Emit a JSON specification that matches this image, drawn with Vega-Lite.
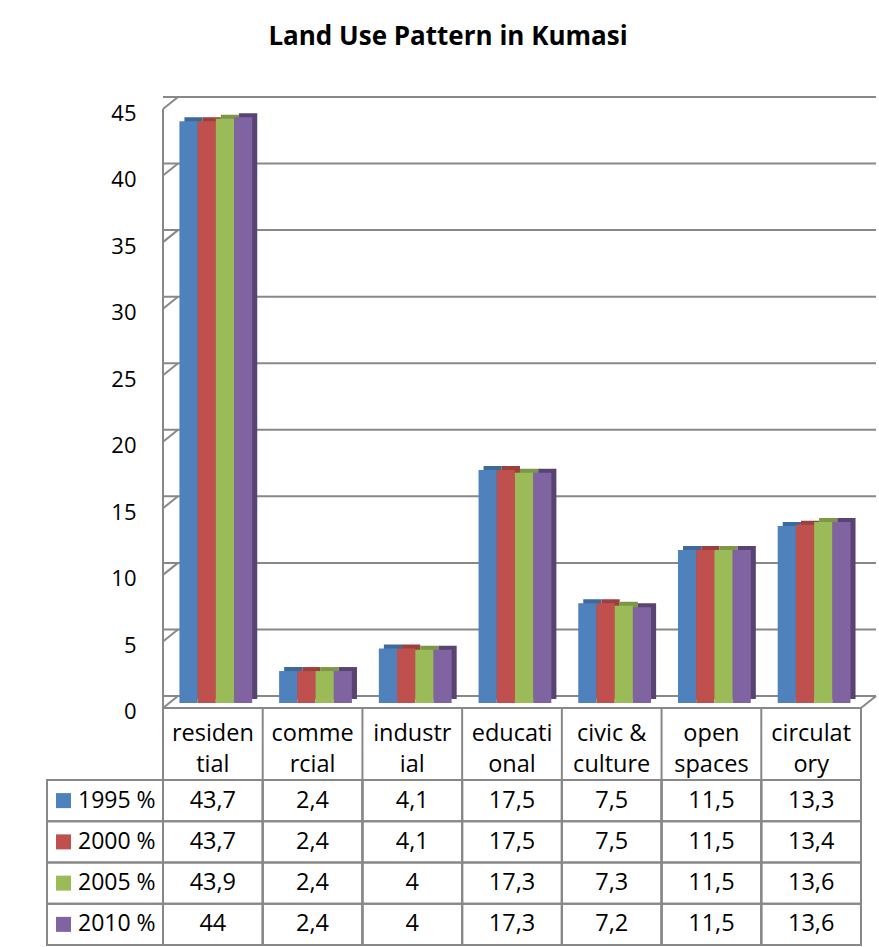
{
  "$schema": "https://vega.github.io/schema/vega-lite/v6.json",
  "autosize": {"type": "none"},
  "width": 698,
  "height": 848,
  "padding": {"left": 163, "top": 97, "right": 18, "bottom": 2},
  "background": "white",
  "config": {"view": {"stroke": null}, "font": "Open Sans", "scale": {"bandPaddingInner": 0, "bandPaddingOuter": 0}},
  "title": {"text": "Land Use Pattern in Kumasi", "font": "Open Sans", "fontSize": 26, "fontWeight": "bold", "color": "black", "anchor": "middle", "frame": "group", "dx": -64, "offset": 25, "baseline": "alphabetic"},
  "datasets": {
    "landuse": [
      {"category": "residential", "series": "1995 %", "value": 43.7, "txt": "43,7"},
      {"category": "commercial", "series": "1995 %", "value": 2.4, "txt": "2,4"},
      {"category": "industrial", "series": "1995 %", "value": 4.1, "txt": "4,1"},
      {"category": "educational", "series": "1995 %", "value": 17.5, "txt": "17,5"},
      {"category": "civic & culture", "series": "1995 %", "value": 7.5, "txt": "7,5"},
      {"category": "open spaces", "series": "1995 %", "value": 11.5, "txt": "11,5"},
      {"category": "circulatory", "series": "1995 %", "value": 13.3, "txt": "13,3"},
      {"category": "residential", "series": "2000 %", "value": 43.7, "txt": "43,7"},
      {"category": "commercial", "series": "2000 %", "value": 2.4, "txt": "2,4"},
      {"category": "industrial", "series": "2000 %", "value": 4.1, "txt": "4,1"},
      {"category": "educational", "series": "2000 %", "value": 17.5, "txt": "17,5"},
      {"category": "civic & culture", "series": "2000 %", "value": 7.5, "txt": "7,5"},
      {"category": "open spaces", "series": "2000 %", "value": 11.5, "txt": "11,5"},
      {"category": "circulatory", "series": "2000 %", "value": 13.4, "txt": "13,4"},
      {"category": "residential", "series": "2005 %", "value": 43.9, "txt": "43,9"},
      {"category": "commercial", "series": "2005 %", "value": 2.4, "txt": "2,4"},
      {"category": "industrial", "series": "2005 %", "value": 4, "txt": "4"},
      {"category": "educational", "series": "2005 %", "value": 17.3, "txt": "17,3"},
      {"category": "civic & culture", "series": "2005 %", "value": 7.3, "txt": "7,3"},
      {"category": "open spaces", "series": "2005 %", "value": 11.5, "txt": "11,5"},
      {"category": "circulatory", "series": "2005 %", "value": 13.6, "txt": "13,6"},
      {"category": "residential", "series": "2010 %", "value": 44, "txt": "44"},
      {"category": "commercial", "series": "2010 %", "value": 2.4, "txt": "2,4"},
      {"category": "industrial", "series": "2010 %", "value": 4, "txt": "4"},
      {"category": "educational", "series": "2010 %", "value": 17.3, "txt": "17,3"},
      {"category": "civic & culture", "series": "2010 %", "value": 7.2, "txt": "7,2"},
      {"category": "open spaces", "series": "2010 %", "value": 11.5, "txt": "11,5"},
      {"category": "circulatory", "series": "2010 %", "value": 13.6, "txt": "13,6"}
    ],
    "cats": [
      {"category": "residential", "header": "residen\ntial"},
      {"category": "commercial", "header": "comme\nrcial"},
      {"category": "industrial", "header": "industr\nial"},
      {"category": "educational", "header": "educati\nonal"},
      {"category": "civic & culture", "header": "civic &\nculture"},
      {"category": "open spaces", "header": "open\nspaces"},
      {"category": "circulatory", "header": "circulat\nory"}
    ],
    "grid": [{"v": 0}, {"v": 5}, {"v": 10}, {"v": 15}, {"v": 20}, {"v": 25}, {"v": 30}, {"v": 35}, {"v": 40}, {"v": 45}],
    "series": [{"series": "1995 %"}, {"series": "2000 %"}, {"series": "2005 %"}, {"series": "2010 %"}],
    "one": [{}]
  },
  "layer": [
    {
      "layer": [
        {
          "data": {"name": "grid"},
          "mark": {"type": "rule", "color": "#888888", "strokeWidth": 2, "xOffset": 15, "x2Offset": 15, "yOffset": -12},
          "encoding": {
            "y": {"field": "v", "type": "quantitative", "scale": {"domain": [-17.805, 45.902], "nice": false, "zero": false},
              "axis": {"values": [0, 5, 10, 15, 20, 25, 30, 35, 40, 45], "title": null, "domain": false, "ticks": false, "grid": false, "labelFont": "Open Sans", "labelFontSize": 22, "labelColor": "black", "labelPadding": 27, "labelOffset": 4}}
          }
        },
        {
          "data": {"name": "grid"},
          "mark": {"type": "rule", "color": "#888888", "strokeWidth": 2, "x2Offset": 15, "y2Offset": -12},
          "encoding": {
            "x": {"datum": "residential", "type": "nominal", "bandPosition": 0, "axis": null,
              "scale": {"domain": ["residential", "commercial", "industrial", "educational", "civic & culture", "open spaces", "circulatory"], "paddingInner": 0, "paddingOuter": 0}},
            "x2": {"datum": "residential", "bandPosition": 0},
            "y": {"field": "v", "type": "quantitative", "scale": {"domain": [-17.805, 45.902], "nice": false, "zero": false}},
            "y2": {"field": "v"}
          }
        },
        {
          "data": {"name": "one"},
          "mark": {"type": "rule", "color": "#888888", "strokeWidth": 2},
          "encoding": {"y": {"datum": 0, "type": "quantitative", "scale": {"domain": [-17.805, 45.902], "nice": false, "zero": false}}}
        },
        {
          "data": {"name": "one"},
          "mark": {"type": "rule", "color": "#888888", "strokeWidth": 2, "x2Offset": 15, "y2Offset": -12},
          "encoding": {
            "x": {"datum": "circulatory", "type": "nominal", "bandPosition": 1},
            "x2": {"datum": "circulatory", "bandPosition": 1},
            "y": {"datum": 0, "type": "quantitative", "scale": {"domain": [-17.805, 45.902], "nice": false, "zero": false}},
            "y2": {"datum": 0}
          }
        },
        {
          "data": {"name": "one"},
          "mark": {"type": "rule", "color": "#888888", "strokeWidth": 2},
          "encoding": {
            "x": {"datum": "residential", "type": "nominal", "bandPosition": 0},
            "y": {"datum": 45, "type": "quantitative", "scale": {"domain": [-17.805, 45.902], "nice": false, "zero": false}},
            "y2": {"value": "height"}
          }
        },
        {
          "data": {"name": "cats"},
          "mark": {"type": "rule", "color": "#888888", "strokeWidth": 2},
          "encoding": {
            "x": {"field": "category", "type": "nominal", "bandPosition": 0},
            "y": {"datum": 0, "type": "quantitative", "scale": {"domain": [-17.805, 45.902], "nice": false, "zero": false}},
            "y2": {"value": "height"}
          }
        },
        {
          "data": {"name": "one"},
          "mark": {"type": "rule", "color": "#888888", "strokeWidth": 2},
          "encoding": {
            "x": {"datum": "circulatory", "type": "nominal", "bandPosition": 1},
            "y": {"datum": 0, "type": "quantitative", "scale": {"domain": [-17.805, 45.902], "nice": false, "zero": false}},
            "y2": {"value": "height"}
          }
        },
        {
          "layer": [
            {
              "data": {"name": "landuse"},
              "mark": {"type": "bar", "yOffset": -9, "y2Offset": -9},
              "encoding": {
                "x": {"field": "category", "type": "nominal"},
                "xOffset": {"field": "series", "type": "nominal", "scale": {"domain": ["1995 %", "2000 %", "2005 %", "2010 %"], "paddingInner": 0, "paddingOuter": 0.739, "align": 0.797}},
                "y": {"field": "value", "type": "quantitative", "scale": {"domain": [-17.805, 45.902], "nice": false, "zero": false}},
                "y2": {"datum": 0},
                "fill": {"field": "series", "type": "nominal", "legend": null, "scale": {"domain": ["1995 %", "2000 %", "2005 %", "2010 %"], "range": ["#3d6a9c", "#9c403d", "#7c9746", "#584372"]}}
              }
            },
            {
              "data": {"name": "landuse"},
              "mark": {"type": "bar", "yOffset": -5, "y2Offset": -5},
              "encoding": {
                "x": {"field": "category", "type": "nominal"},
                "xOffset": {"field": "series", "type": "nominal", "scale": {"domain": ["1995 %", "2000 %", "2005 %", "2010 %"], "paddingInner": 0, "paddingOuter": 0.739, "align": 0.61}},
                "y": {"field": "value", "type": "quantitative", "scale": {"domain": [-17.805, 45.902], "nice": false, "zero": false}},
                "y2": {"datum": 0},
                "color": {"field": "series", "type": "nominal", "legend": null, "scale": {"domain": ["1995 %", "2000 %", "2005 %", "2010 %"], "range": ["#4F81BD", "#C0504D", "#9BBB59", "#8064A2"]}}
              }
            }
          ],
          "resolve": {"scale": {"xOffset": "independent"}}
        },
        {
          "data": {"name": "cats"},
          "mark": {"type": "text", "lineBreak": "\n", "fontSize": 23.5, "lineHeight": 31, "baseline": "alphabetic", "yOffset": 33, "color": "black", "font": "Open Sans"},
          "encoding": {
            "x": {"field": "category", "type": "nominal"},
            "y": {"datum": 0, "type": "quantitative", "scale": {"domain": [-17.805, 45.902], "nice": false, "zero": false}},
            "text": {"field": "header"}
          }
        }
      ]
    },
    {
      "layer": [
        {
          "data": {"name": "landuse"},
          "mark": {"type": "rect", "filled": false, "stroke": "#888888", "strokeWidth": 2},
          "encoding": {
            "x": {"field": "category", "type": "nominal"},
            "y": {"field": "series", "type": "nominal", "axis": null, "scale": {"domain": ["1995 %", "2000 %", "2005 %", "2010 %"], "range": [683, 848], "paddingInner": 0, "paddingOuter": 0}}
          }
        },
        {
          "data": {"name": "series"},
          "mark": {"type": "rect", "filled": false, "stroke": "#888888", "strokeWidth": 2, "xOffset": -116},
          "encoding": {
            "x": {"datum": "residential", "type": "nominal", "bandPosition": 0},
            "x2": {"datum": "residential", "bandPosition": 0},
            "y": {"field": "series", "type": "nominal"}
          }
        },
        {
          "data": {"name": "landuse"},
          "mark": {"type": "text", "fontSize": 23.5, "baseline": "middle", "color": "black", "font": "Open Sans"},
          "encoding": {
            "x": {"field": "category", "type": "nominal"},
            "y": {"field": "series", "type": "nominal"},
            "text": {"field": "txt"}
          }
        },
        {
          "data": {"name": "series"},
          "mark": {"type": "text", "fontSize": 23, "baseline": "middle", "align": "left", "color": "black", "font": "Open Sans", "xOffset": -85},
          "encoding": {
            "x": {"datum": "residential", "type": "nominal", "bandPosition": 0},
            "y": {"field": "series", "type": "nominal"},
            "text": {"field": "series"}
          }
        },
        {
          "data": {"name": "series"},
          "mark": {"type": "point", "shape": "square", "size": 225, "filled": true, "opacity": 1, "xOffset": -99.5},
          "encoding": {
            "x": {"datum": "residential", "type": "nominal", "bandPosition": 0},
            "y": {"field": "series", "type": "nominal"},
            "color": {"field": "series", "type": "nominal", "legend": null}
          }
        }
      ]
    }
  ],
  "resolve": {"scale": {"y": "independent"}}
}
